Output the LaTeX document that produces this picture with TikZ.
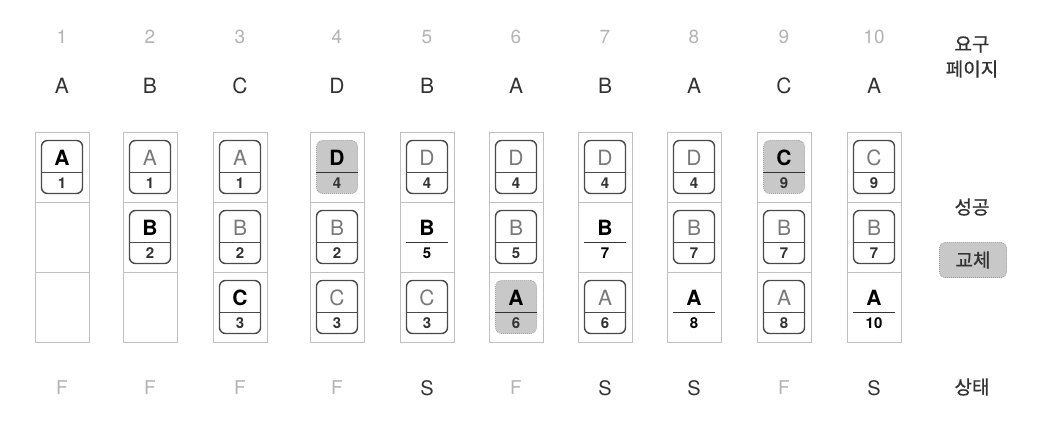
\documentclass[tikz,border=0pt]{standalone}
\usepackage{fontspec}
\setmainfont{TeX Gyre Heros}
\newfontfamily\kr{Noto Sans CJK KR}[BoldFont=Noto Sans CJK KR, BoldFeatures={FakeBold=0.8}]
\definecolor{lgray}{HTML}{B4B4B4}
\definecolor{mgray}{HTML}{7A7A7A}
\definecolor{dgray}{HTML}{333333}
\definecolor{bgray}{HTML}{4A4A4A}
\definecolor{fgray}{HTML}{C8C8C8}
\definecolor{frgray}{HTML}{C0C0C0}
\tikzset{
  frame/.style={draw=frgray, line width=0.9pt, minimum width=54pt, minimum height=70pt, inner sep=0pt},
  pbox/.style={draw=bgray, line width=1.4pt, rounded corners=6pt, minimum width=41pt, minimum height=53pt, inner sep=0pt},
  fbox/.style={draw=fgray!80!black, dash pattern=on 1pt off 1pt, line width=0.6pt, fill=fgray, rounded corners=6pt, minimum width=41pt, minimum height=53pt, inner sep=0pt},
  sbox/.style={draw=none, minimum width=41pt, minimum height=53pt, inner sep=0pt},
  divline/.style={draw=bgray, line width=1.1pt},
  sdivline/.style={draw=dgray, line width=1.4pt},
  oldtxt/.style={text=mgray, font=\fontsize{21}{24}\selectfont, inner sep=0pt},
  newtxt/.style={text=black, font=\fontsize{21}{24}\selectfont\bfseries, inner sep=0pt},
  numtxt/.style={text=dgray, font=\fontsize{15}{17}\selectfont\bfseries, inner sep=0pt},
  snumtxt/.style={text=black, font=\fontsize{15}{17}\selectfont\bfseries, inner sep=0pt},
  topnum/.style={text=lgray, font=\fontsize{19}{22}\selectfont, inner sep=0pt},
  toplet/.style={text=dgray, font=\fontsize{21}{24}\selectfont, inner sep=0pt},
  fstat/.style={text=lgray, font=\fontsize{19}{22}\selectfont, inner sep=0pt},
  sstat/.style={text=dgray, font=\fontsize{20}{22}\selectfont, inner sep=0pt},
  krlab/.style={text=dgray, font=\kr\fontsize{19}{25}\selectfont\bfseries, inner sep=0pt, align=center},
  krbox/.style={text=dgray, font=\kr\fontsize{19}{25}\selectfont\bfseries, fill=fgray, draw=fgray!75!black, dash pattern=on 1pt off 1pt, line width=0.6pt, rounded corners=5pt, minimum width=67pt, minimum height=35pt, inner sep=0pt},
}
% #1 name, #2 x, #3 y, #4 box style, #5 divider style, #6 letter style, #7 number style, #8 letter, #9 number
\newcommand\pcell[9]{%
  \node[#4] (#1) at (#2,#3) {};
  \draw[#5] ([yshift=-5.5pt]#1.west) -- ([yshift=-5.5pt]#1.east);
  \node[#6] (#1l) at ([yshift=9pt]#1.center) {#8};
  \node[#7] (#1n) at ([yshift=-16pt]#1.center) {#9};
}
\newcommand\oldcell[5]{\pcell{#1}{#2}{#3}{pbox}{divline}{oldtxt}{numtxt}{#4}{#5}}
\newcommand\newcell[5]{\pcell{#1}{#2}{#3}{pbox}{divline}{newtxt}{numtxt}{#4}{#5}}
\newcommand\repcell[5]{\pcell{#1}{#2}{#3}{fbox}{sdivline}{newtxt}{numtxt}{#4}{#5}}
\newcommand\succell[5]{\pcell{#1}{#2}{#3}{sbox}{sdivline}{newtxt}{snumtxt}{#4}{#5}}
\begin{document}
\begin{tikzpicture}[x=1pt,y=-1pt]
\useasboundingbox (0,0) rectangle (1048,438);
\fill[white] (0,0) rectangle (1048,438);
% frames
\foreach \i/\x in {1/62,2/150,3/240,4/337,5/427,6/516,7/605,8/694,9/784,10/874}{
  \node[frame] (fa\i) at (\x,167) {};
  \node[frame] (fb\i) at (\x,237) {};
  \node[frame] (fc\i) at (\x,307) {};
}
% top numbers and letters
\foreach \i/\x/\l in {1/62/A,2/150/B,3/240/C,4/337/D,5/427/B,6/516/A,7/605/B,8/694/A,9/784/C,10/874/A}{
  \node[topnum] (n\i) at (\x,37) {\i};
  \node[toplet] (l\i) at (\x,86) {\l};
}
% status
\foreach \i/\x/\s/\st in {1/62/F/fstat,2/150/F/fstat,3/240/F/fstat,4/337/F/fstat,5/427/S/sstat,6/516/F/fstat,7/605/S/sstat,8/694/S/sstat,9/784/F/fstat,10/874/S/sstat}{
  \node[\st] (s\i) at (\x,388) {\s};
}
% column 1
\newcell{c1a}{62}{167}{A}{1}
% column 2
\oldcell{c2a}{150}{167}{A}{1}
\newcell{c2b}{150}{237}{B}{2}
% column 3
\oldcell{c3a}{240}{167}{A}{1}
\oldcell{c3b}{240}{237}{B}{2}
\newcell{c3c}{240}{307}{C}{3}
% column 4
\repcell{c4a}{337}{167}{D}{4}
\oldcell{c4b}{337}{237}{B}{2}
\oldcell{c4c}{337}{307}{C}{3}
% column 5
\oldcell{c5a}{427}{167}{D}{4}
\succell{c5b}{427}{237}{B}{5}
\oldcell{c5c}{427}{307}{C}{3}
% column 6
\oldcell{c6a}{516}{167}{D}{4}
\oldcell{c6b}{516}{237}{B}{5}
\repcell{c6c}{516}{307}{A}{6}
% column 7
\oldcell{c7a}{605}{167}{D}{4}
\succell{c7b}{605}{237}{B}{7}
\oldcell{c7c}{605}{307}{A}{6}
% column 8
\oldcell{c8a}{694}{167}{D}{4}
\oldcell{c8b}{694}{237}{B}{7}
\succell{c8c}{694}{307}{A}{8}
% column 9
\repcell{c9a}{784}{167}{C}{9}
\oldcell{c9b}{784}{237}{B}{7}
\oldcell{c9c}{784}{307}{A}{8}
% column 10
\oldcell{c10a}{874}{167}{C}{9}
\oldcell{c10b}{874}{237}{B}{7}
\succell{c10c}{874}{307}{A}{10}
% right labels
\node[krlab] (req) at (972,57) {요구\\페이지};
\node[krlab] (succ) at (972,207) {성공};
\node[krbox] (repl) at (973,260) {교체};
\node[krlab] (state) at (972,387) {상태};
\end{tikzpicture}
\end{document}
